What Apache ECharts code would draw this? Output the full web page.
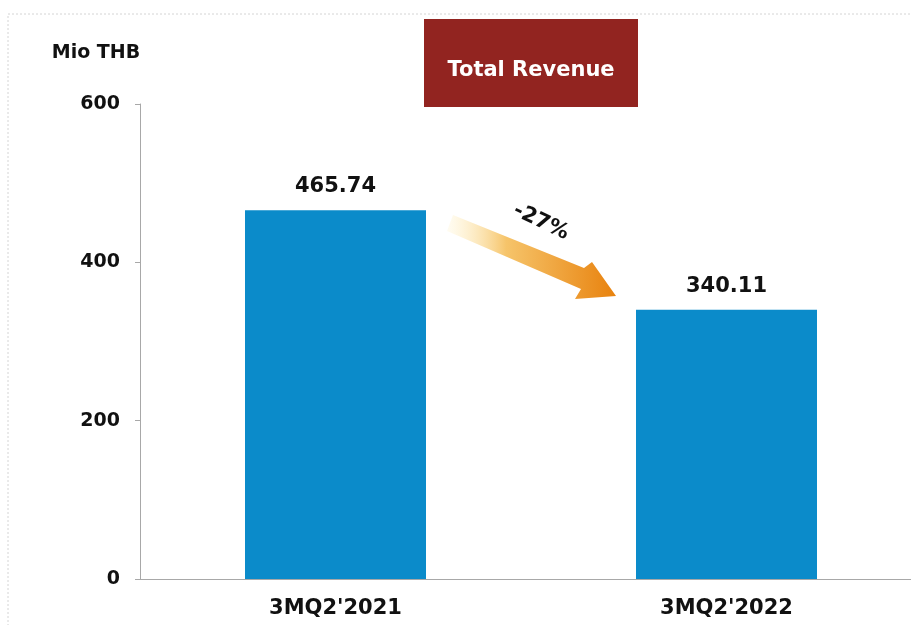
<!DOCTYPE html>
<html><head><meta charset="utf-8">
<style>html,body{margin:0;padding:0;background:#fff;overflow:hidden;width:911px;height:625px}#c{width:922px;height:625px}</style>
<script src="https://cdn.jsdelivr.net/npm/echarts@6/dist/echarts.min.js"></script>
</head><body><div id="c"></div>
<script>
const categories = ["3MQ2'2021", "3MQ2'2022"];
const revenue = [465.74, 340.11];
const yTicks = [0, 200, 400, 600];
const unitLabel = 'Mio THB';
const titleText = 'Total Revenue';
const changeText = '-27%';

const F = '"DejaVu Sans", Verdana, sans-serif';
const chart = echarts.init(document.getElementById('c'));
chart.setOption({
  animation: false,
  backgroundColor: '#fff',
  grid: { left: 140, right: 0, top: 104, bottom: 46 },
  xAxis: {
    type: 'category', data: categories,
    axisLine: { lineStyle: { color: '#a8a8a8', width: 1 } },
    axisTick: { show: false },
    axisLabel: { color: '#111', fontFamily: F, fontWeight: 'bold', fontSize: 21, margin: 19 }
  },
  yAxis: {
    type: 'value', min: yTicks[0], max: yTicks[yTicks.length - 1], interval: 200,
    axisLine: { show: true, lineStyle: { color: '#a8a8a8', width: 1 } },
    axisTick: { show: true, length: 5, lineStyle: { color: '#a8a8a8' } },
    splitLine: { show: false },
    axisLabel: { color: '#111', fontFamily: F, fontWeight: 'bold', fontSize: 19, margin: 20 }
  },
  series: [{
    type: 'bar', data: revenue, barWidth: 181,
    itemStyle: { color: '#0b8bca' },
    label: { show: true, position: 'top', distance: 13, color: '#111',
      fontFamily: F, fontWeight: 'bold', fontSize: 21,
      formatter: p => p.value.toFixed(2) }
  }],
  graphic: [
    { type: 'rect', shape: { x: 8, y: 14, width: 930, height: 700 }, silent: true,
      style: { fill: 'none', stroke: '#d4d4d4', lineWidth: 1, lineDash: [2, 2] } },
    { type: 'rect', shape: { x: 424, y: 19, width: 214, height: 88 },
      style: { fill: '#922420' } },
    { type: 'text', x: 531, y: 71, style: { text: titleText, fill: '#fff',
      font: 'bold 21px ' + F, align: 'center', verticalAlign: 'middle' } },
    { type: 'text', x: 96, y: 53, style: { text: unitLabel, fill: '#111',
      font: 'bold 19px ' + F, align: 'center', verticalAlign: 'middle' } },
    { type: 'polygon',
      shape: { points: [[453, 215], [584, 268], [592, 262], [616, 296], [575, 299], [581, 289], [447, 231]] },
      style: { fill: new echarts.graphic.LinearGradient(0, 0, 1, 0, [
        { offset: 0, color: 'rgba(255,240,190,0.2)' },
        { offset: 0.35, color: '#f6c46a' },
        { offset: 1, color: '#e8820e' }]) } },
    { type: 'text', x: 541, y: 222, rotation: -0.44, style: { text: changeText, fill: '#111',
      font: 'bold 21px ' + F, align: 'center', verticalAlign: 'middle' } }
  ]
});
</script></body></html>
